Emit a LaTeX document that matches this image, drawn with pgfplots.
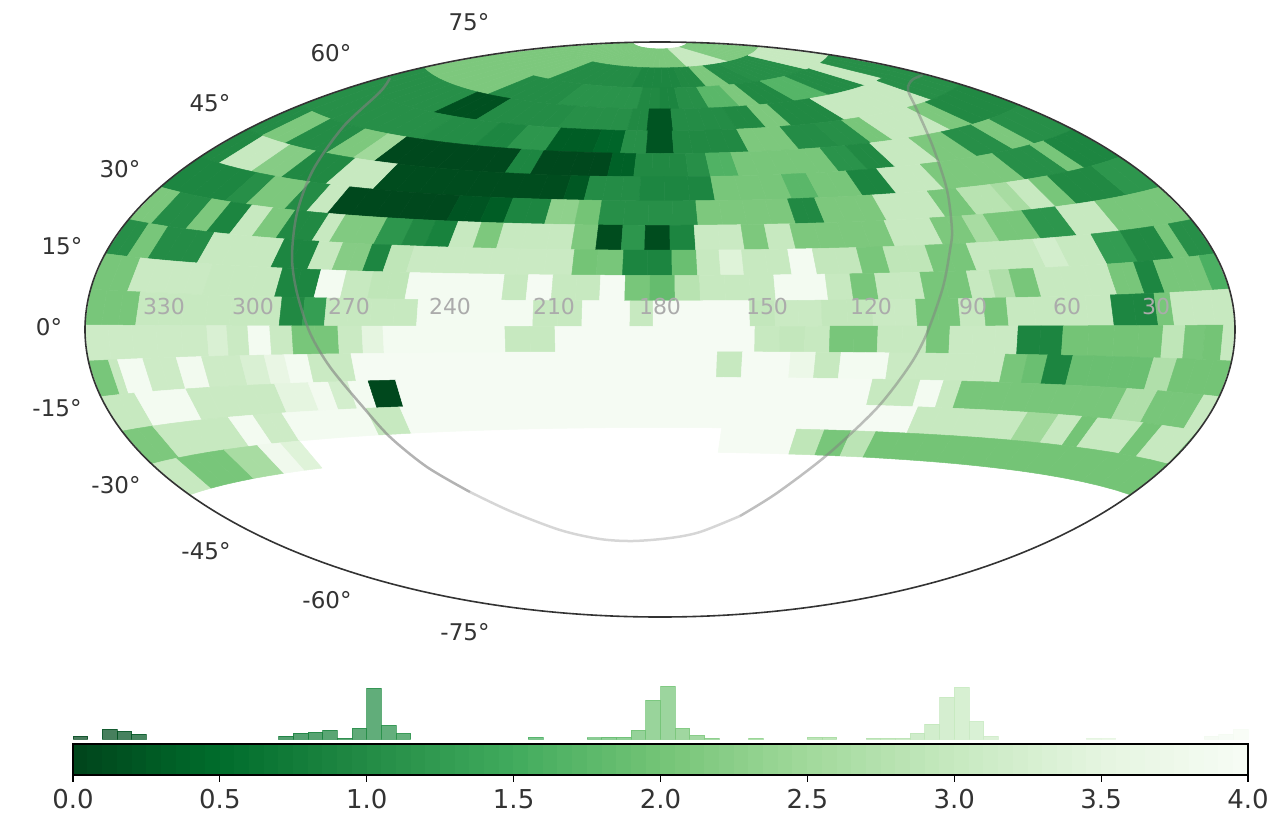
\documentclass[border=0pt]{standalone}
\usepackage{fontspec}
\setmainfont{DejaVu Sans}
\usepackage{pgfplots}
\pgfplotsset{compat=1.18}
\usepgfplotslibrary{patchplots}
\pgfplotsset{
  colormap={greensr}{rgb255(0cm)=(0,68,27) rgb255(1cm)=(0,109,44) rgb255(2cm)=(35,139,69) rgb255(3cm)=(65,171,93) rgb255(4cm)=(116,196,118) rgb255(5cm)=(161,217,155) rgb255(6cm)=(199,233,192) rgb255(7cm)=(229,245,224) rgb255(8cm)=(247,252,245)},
}
\definecolor{txt}{HTML}{333333}
\definecolor{glab}{HTML}{ABABAB}
% ---- Hammer projection helpers: x pixel on the row's middle latitude -> longitude
\newcommand\invlam[2]{%
  \pgfmathsetmacro\myXh{(#1-660)/575}%
  \pgfmathsetmacro\myXa{\myXh*\myXh}%
  \pgfmathsetmacro\myDisc{max(\myXa*\myXa-4*\myXa+4*#2*#2,0)}%
  \pgfmathsetmacro\myC{max(min((-\myXa+sqrt(\myDisc))/(2*#2),1),0)}%
  \pgfmathsetmacro\myTa{min(1,abs(\myXh)*sqrt(1+#2*\myC)/#2)}%
  \pgfmathsetmacro\myTt{\myC>0.7 ? asin(\myTa) : acos(\myC)}%
  \pgfmathsetmacro\myLam{2*\myTt*(\myXh<0 ? -1 : 1)}%
}
\newcommand\proj[3]{%
  \pgfmathsetmacro\myT{#1/2}%
  \pgfmathsetmacro\myD{sqrt(1+#2*cos(\myT))}%
  \pgfmathsetmacro\px{660+575*#2*sin(\myT)/\myD}%
  \pgfmathsetmacro\py{329.5-287.5*#3/\myD}%
}
\newcommand\doplot[1]{\addplot[patch,patch type=rectangle,shader=faceted,faceted color=mapped color,line width=0.25pt,point meta=explicit] coordinates {#1};}
\newcommand\rowplot[2]{%
  \pgfmathsetmacro\ptop{87.3-7.2*#1}\pgfmathsetmacro\pbot{80.1-7.2*#1}\pgfmathsetmacro\pmid{83.7-7.2*#1}%
  \pgfmathsetmacro\ct{cos(\ptop)}\pgfmathsetmacro\st{sin(\ptop)}%
  \pgfmathsetmacro\cb{cos(\pbot)}\pgfmathsetmacro\sb{sin(\pbot)}%
  \pgfmathsetmacro\cm{cos(\pmid)}%
  \gdef\acc{}%
  \foreach \cA/\cB/\cV in {#2}{%
    \invlam{\cA}{\cm}\let\lamA\myLam
    \invlam{\cB}{\cm}\let\lamB\myLam
    \pgfmathtruncatemacro\nsub{max(1,ceil((\lamB-\lamA)/9))}%
    \pgfmathsetmacro\dl{(\lamB-\lamA)/\nsub}%
    \foreach \k in {1,...,\nsub}{%
      \pgfmathsetmacro\lone{\lamA+(\k-1)*\dl}\pgfmathsetmacro\ltwo{\lamA+\k*\dl}%
      \proj{\lone}{\ct}{\st}\let\xa\px\let\ya\py
      \proj{\ltwo}{\ct}{\st}\let\xb\px\let\yb\py
      \proj{\ltwo}{\cb}{\sb}\let\xc\px\let\yc\py
      \proj{\lone}{\cb}{\sb}\let\xd\px\let\yd\py
      \xdef\acc{\acc (\xa,\ya)[\cV] (\xb,\yb)[\cV] (\xc,\yc)[\cV] (\xd,\yd)[\cV] }%
    }%
  }%
  \expandafter\doplot\expandafter{\acc}%
}
\newcommand\histdata[1]{%
  \gdef\acc{}%
  \foreach \hV/\hH in {#1}{%
    \pgfmathsetmacro\hR{\hV+0.05}\pgfmathsetmacro\hM{\hV+0.025}%
    \xdef\acc{\acc (\hV,0)[\hM] (\hR,0)[\hM] (\hR,\hH)[\hM] (\hV,\hH)[\hM] }%
  }%
}
\newcommand\doplotH[1]{\addplot[patch,patch type=rectangle,shader=flat,opacity=0.72,point meta=explicit] coordinates {#1};}
\newcommand\doplotC[1]{\addplot[patch,patch type=rectangle,shader=faceted,faceted color=mapped color,line width=0.25pt,point meta=explicit] coordinates {#1};}
\begin{document}
\begin{tikzpicture}[x=1pt,y=1pt]
\useasboundingbox (0,0) rectangle (640.5pt,410pt);
\begin{axis}[at={(0pt,0pt)},anchor=south west,scale only axis,width=640.5pt,height=410pt,
  xmin=0,xmax=1281,ymin=0,ymax=820,y dir=reverse,hide axis,clip=false,
  colormap name=greensr,point meta min=0,point meta max=4]
\rowplot{0}{597/678/2.1,678/705/3.0,705/723/2.15}
\rowplot{1}{526/570/2.1,570/637/1.02,637/678/0.92,678/698/0.97,698/717/2.1,717/737/1.02,737/778/1.07,778/794/3.0}
\rowplot{2}{457/510/2.1,510/570/1.02,570/640/1.12,640/660/0.97,660/677/0.9,677/703/1.07,703/730/1.75,730/748/2.1,748/778/0.97,778/808/1.7,808/838/1.02,838/852/3.0,852/863/1.07}
\rowplot{3}{391/455/1.07,455/493/0.15,493/567/1.02,567/630/1.07,630/648/0.97,648/672/0.2,672/702/1.02,702/730/1.02,730/757/0.97,757/780/2.1,780/828/0.97,828/905/3.0,905/929/1.07}
\rowplot{4}{329/437/1.07,437/487/1.02,487/517/0.92,517/553/1.17,553/597/0.3,597/623/0.4,623/647/1.07,647/673/0.2,673/743/0.97,743/790/2.1,790/827/1.02,827/857/1.07,857/877/2.05,877/930/3.0,930/950/2.1,950/991/0.97}
\rowplot{5}{273/286/1.02,286/307/2.1,307/345/1.02,345/370/2.1,370/390/2.5,390/513/0.05,513/537/0.92,537/610/0.05,610/635/0.35,635/687/0.97,687/708/1.07,708/735/1.65,735/830/2.05,830/857/1.12,857/883/0.97,883/925/3.0,925/960/2.1,960/993/1.07,993/1013/2.1,1013/1047/1.07}
\rowplot{6}{223/240/0.97,240/270/3.0,270/298/2.2,298/340/0.97,340/385/3.0,385/567/0.1,567/587/0.25,587/640/1.02,640/713/0.92,713/787/2.05,787/813/1.75,813/855/2.05,855/887/0.9,887/933/3.0,933/1010/2.1,1010/1050/1.07,1050/1065/2.05,1065/1097/0.92}
\rowplot{7}{179/240/0.92,240/260/1.07,260/297/2.1,297/318/1.02,318/338/3.0,338/453/0.05,453/485/0.2,485/508/0.3,508/548/0.92,548/577/2.3,577/600/2.0,600/697/1.07,697/792/2.1,792/820/0.97,820/880/2.1,880/937/3.0,937/967/2.05,967/1003/2.8,1003/1020/2.6,1020/1043/3.0,1043/1063/2.05,1063/1110/0.97,1110/1141/1.17}
\rowplot{8}{144/165/2.1,165/198/1.02,198/218/2.1,218/240/0.9,240/262/3.0,262/285/2.1,285/320/0.97,320/337/3.0,337/380/2.15,380/407/1.17,407/430/0.97,430/453/0.85,453/477/3.0,477/500/2.1,500/573/3.0,573/597/2.1,597/622/0.1,622/645/1.17,645/670/0.1,670/695/0.9,695/743/3.05,743/767/2.1,767/793/3.0,793/890/2.1,890/937/3.0,937/970/2.1,970/992/2.6,992/1032/2.05,1032/1067/1.17,1067/1108/3.0,1108/1176/2.05}
\rowplot{9}{113/137/1.07,137/157/2.05,157/205/1.02,205/277/3.0,277/313/0.92,313/337/3.0,337/367/2.2,367/387/0.92,387/410/2.9,410/573/3.05,573/597/2.0,597/623/2.05,623/672/0.9,672/697/1.9,697/720/3.0,720/743/3.4,743/790/3.0,790/815/3.9,815/860/2.95,860/887/2.05,887/930/2.9,930/972/2.05,972/1040/3.0,1040/1063/3.2,1063/1100/3.0,1100/1130/1.27,1130/1165/0.97,1165/1180/2.05,1180/1204/1.07}
\rowplot{10}{90/133/2.05,133/207/3.05,207/278/3.0,278/317/0.92,317/343/3.9,343/370/3.0,370/407/2.9,407/503/3.9,503/527/3.0,527/552/3.95,552/600/3.0,600/625/3.95,625/650/2.05,650/675/1.85,675/700/2.8,700/775/3.0,775/827/3.9,827/852/3.0,852/877/2.05,877/923/3.0,923/970/2.05,970/993/3.0,993/1013/2.7,1013/1038/2.05,1038/1113/3.0,1113/1140/2.05,1140/1160/0.92,1160/1207/2.05,1207/1235/1.6}
\rowplot{11}{85/137/2.05,137/280/3.0,280/303/0.97,303/325/1.3,325/417/3.0,417/533/3.9,533/582/3.0,582/630/3.95,630/653/3.0,653/750/3.95,750/775/2.95,775/822/3.05,822/873/2.95,873/917/3.05,917/960/2.05,960/985/3.0,985/1008/2.05,1008/1113/3.0,1113/1157/0.92,1157/1173/2.05,1173/1240/3.0}
\rowplot{12}{85/207/3.1,207/227/3.3,227/248/3.05,248/270/3.9,270/292/3.05,292/338/2.05,338/362/3.05,362/383/3.5,383/505/3.9,505/555/3.0,555/755/3.95,755/780/3.0,780/805/2.95,805/830/3.0,830/878/2.05,878/927/3.0,927/950/2.05,950/1018/3.05,1018/1063/0.9,1063/1163/2.0,1163/1185/2.9,1185/1205/2.05,1205/1223/2.0,1223/1240/3.0}
\rowplot{13}{85/113/2.05,113/122/3.0,122/147/3.9,147/180/3.1,180/205/3.85,205/243/3.1,243/267/3.3,267/287/3.6,287/310/3.9,310/353/3.05,353/717/3.95,717/742/3.0,742/790/3.95,790/815/3.7,815/840/3.0,840/888/3.9,888/1003/3.05,1003/1025/2.05,1025/1045/1.9,1045/1070/0.9,1070/1150/1.9,1150/1173/2.7,1173/1240/2.0}
\rowplot{14}{85/143/3.0,143/193/3.9,193/280/3.05,280/313/3.5,313/333/3.85,333/352/3.2,352/372/3.9,372/399/0.05,399/870/3.95,870/917/3.0,917/940/3.9,940/958/3.0,958/1120/2.05,1120/1150/2.7,1150/1195/2.05,1195/1240/3.0}
\rowplot{15}{85/165/2.1,165/238/3.0,238/262/3.9,262/290/3.1,290/372/3.9,372/405/3.0,405/913/3.95,913/1020/3.0,1020/1050/2.5,1050/1073/3.0,1073/1088/2.0,1088/1132/3.0,1132/1150/2.0,1150/1187/3.0,1187/1240/2.0}
\rowplot{16}{85/193/3.0,193/238/2.05,238/270/2.6,270/292/3.8,292/310/3.4,720/793/3.95,793/820/2.9,820/846/2.05,846/870/2.85,870/1240/2.0}
% galactic plane
\addplot[smooth,no markers,color=gray,opacity=0.6,line width=1.25pt] coordinates {(390,78)(380,92)(343,127)(313,170)(297,213)(292,257)(297,293)(310,333)(330,367)(363,407)(390,437)(427,467)(470,492)};
\addplot[smooth,no markers,color=gray,opacity=0.32,line width=1.25pt] coordinates {(470,492)(510,511)(560,530)(600,539)(633,541)(670,538)(700,532)(740,516)};
\addplot[smooth,no markers,color=gray,opacity=0.5,line width=1.25pt] coordinates {(740,516)(777,493)(827,455)(877,408)(910,365)(927,333)(943,287)(950,250)(952,230)(947,190)(933,147)(917,110)(908,90)(912,80)(923,75)};
\draw[color=black!80,line width=0.8pt] (axis cs:660,329.5) ellipse [x radius=287.5pt,y radius=143.75pt];
% latitude labels
\foreach \lx/\ly/\lt in {469/22/75,331/53/60,210/103/45,120/169/30,62/246/15,49/327/0,57/408/-15,116/485/-30,206/551/-45,327/600/-60,465/632/-75}{
  \edef\tmp{\noexpand\node[font=\noexpand\fontsize{11.5pt}{13pt}\noexpand\selectfont,text=txt,inner sep=0pt] at (axis cs:\lx,\ly) {\lt°};}\tmp}
\foreach \lx/\lt in {164/330,253/300,349/270,450/240,554/210,660/180,767/150,871/120,973/90,1067/60,1156/30}{
  \edef\tmp{\noexpand\node[font=\noexpand\fontsize{11pt}{13pt}\noexpand\selectfont,text=glab,inner sep=0pt] at (axis cs:\lx,306) {\lt};}\tmp}
\end{axis}
% histogram
\begin{axis}[at={(36.5pt,40.5pt)},anchor=south west,scale only axis,width=587.5pt,height=30pt,
  xmin=0,xmax=4,ymin=0,ymax=60,hide axis,clip=false,
  colormap name=greensr,point meta min=0,point meta max=4]
\histdata{0/3,0.1/10,0.15/8,0.2/4.5,0.7/2.5,0.75/6,0.8/6.5,0.85/8.5,0.9/1,0.95/11,1.0/51,1.05/14,1.1/5.5,1.55/1.5,1.75/1.2,1.8/1.5,1.85/1.5,1.9/9,1.95/39,2.0/53,2.05/10.5,2.1/3.5,2.15/0.5,2.3/0.5,2.5/2,2.55/2,2.7/0.5,2.75/0.5,2.8/0.5,2.85/5.5,2.9/15,2.95/41.5,3.0/52,3.05/18,3.1/2.5,3.45/1,3.5/1,3.85/2.5,3.9/5,3.95/10}
\expandafter\doplotH\expandafter{\acc}
\end{axis}
% colour bar
\begin{axis}[at={(36.5pt,22.5pt)},anchor=south west,scale only axis,width=587.5pt,height=15.5pt,
  xmin=0,xmax=4,ymin=0,ymax=1,ytick=\empty,xtick={0,0.5,1,1.5,2,2.5,3,3.5,4},
  xtick pos=bottom,tick align=outside,major tick length=3.5pt,
  xticklabel style={/pgf/number format/assume math mode=true,/pgf/number format/fixed,/pgf/number format/fixed zerofill,/pgf/number format/precision=1,font=\fontsize{13pt}{15pt}\selectfont,text=txt},
  axis line style={line width=0.8pt,black},every tick/.style={black,line width=0.6pt},
  colormap name=greensr,point meta min=0,point meta max=4,axis on top]
\gdef\acc{}
\foreach \k in {0,...,79}{%
  \pgfmathsetmacro\cbL{\k*0.05}\pgfmathsetmacro\cbR{(\k+1)*0.05}\pgfmathsetmacro\cbM{(\k+0.5)*0.05}%
  \xdef\acc{\acc (\cbL,0)[\cbM] (\cbR,0)[\cbM] (\cbR,1)[\cbM] (\cbL,1)[\cbM] }}
\expandafter\doplotC\expandafter{\acc}
\end{axis}
\end{tikzpicture}
\end{document}
